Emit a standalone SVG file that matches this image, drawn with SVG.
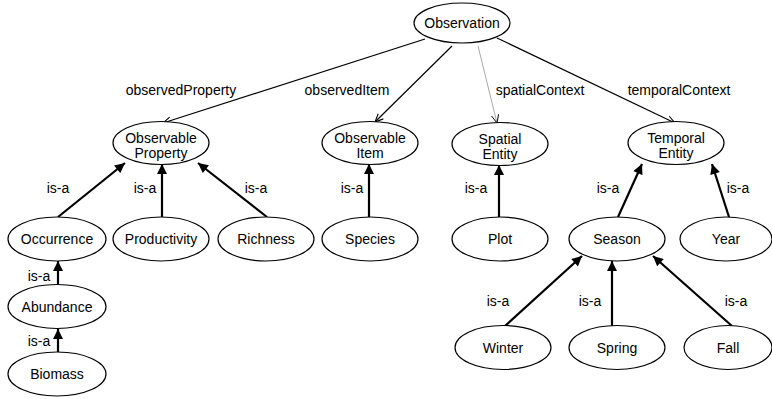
<svg xmlns="http://www.w3.org/2000/svg" width="772" height="399" viewBox="0 0 772 399">
<defs>
<style>
.n ellipse{fill:#fff;stroke:#000;stroke-width:1.2}
text{font-family:"Liberation Sans",Arial,sans-serif;font-size:14px;fill:#000;text-anchor:middle}
.rel{stroke:#000;stroke-width:1.2;fill:none}
.isa{stroke:#000;stroke-width:2.2;fill:none;marker-end:url(#tri)}
</style>
<marker id="open" viewBox="0 0 10 10" refX="10" refY="5" markerWidth="9" markerHeight="9" markerUnits="userSpaceOnUse" orient="auto">
<path d="M1,1 L10,5 L1,9" fill="none" stroke="#000" stroke-width="1.2"/>
</marker>
<marker id="opengray" viewBox="0 0 10 10" refX="10" refY="5" markerWidth="9" markerHeight="9" markerUnits="userSpaceOnUse" orient="auto">
<path d="M1,1 L10,5 L1,9" fill="none" stroke="#000" stroke-width="1"/>
</marker>
<marker id="tri" viewBox="0 0 10 10" refX="10" refY="5" markerWidth="11" markerHeight="10" markerUnits="userSpaceOnUse" orient="auto">
<path d="M0,0 L10,5 L0,10 Z" fill="#000"/>
</marker>
</defs>
<rect width="772" height="399" fill="#fff"/>
<g id="connectors">
<line class="rel" x1="425" y1="39" x2="163" y2="123" marker-end="url(#open)"/>
<line class="rel" x1="452" y1="46" x2="375" y2="122" marker-end="url(#open)"/>
<line x1="478" y1="46" x2="497" y2="123" stroke="#aaa" stroke-width="1" marker-end="url(#opengray)"/>
<line class="rel" x1="497" y1="38" x2="675" y2="123" stroke-width="1.6" marker-end="url(#open)"/>
<text x="181" y="95">observedProperty</text>
<text x="347" y="95">observedItem</text>
<text x="540" y="95">spatialContext</text>
<text x="679" y="95">temporalContext</text>
<line class="isa" x1="58" y1="217" x2="125" y2="163"/>
<line class="isa" x1="162" y1="217" x2="162" y2="164"/>
<line class="isa" x1="267" y1="217" x2="198" y2="163"/>
<line class="isa" x1="369" y1="217" x2="369" y2="164"/>
<line class="isa" x1="499" y1="217" x2="499" y2="165"/>
<line class="isa" x1="618" y1="217" x2="642" y2="164"/>
<line class="isa" x1="729" y1="217" x2="712" y2="164"/>
<line class="isa" x1="58" y1="284" x2="58" y2="261"/>
<line class="isa" x1="58" y1="352" x2="58" y2="329"/>
<line class="isa" x1="505" y1="326" x2="582" y2="256"/>
<line class="isa" x1="612" y1="326" x2="612" y2="261"/>
<line class="isa" x1="732" y1="326" x2="653" y2="256"/>
<text x="58" y="193">is-a</text>
<text x="145" y="193">is-a</text>
<text x="256" y="193">is-a</text>
<text x="352" y="193">is-a</text>
<text x="476" y="193">is-a</text>
<text x="608" y="193">is-a</text>
<text x="738" y="193">is-a</text>
<text x="39" y="281">is-a</text>
<text x="39" y="346">is-a</text>
<text x="498" y="306">is-a</text>
<text x="590" y="306">is-a</text>
<text x="736" y="306">is-a</text>
</g>
<g id="observation" class="n"><ellipse cx="462" cy="23" rx="48" ry="20"/><text x="462" y="28">Observation</text></g>
<g id="observable-property" class="n"><ellipse cx="161" cy="143" rx="48" ry="21.5"/><text x="161" y="143">Observable</text><text x="161" y="158">Property</text></g>
<g id="observable-item" class="n"><ellipse cx="370" cy="143" rx="48" ry="21.5"/><text x="370" y="143">Observable</text><text x="370" y="158">Item</text></g>
<g id="spatial-entity" class="n"><ellipse cx="500" cy="144" rx="48" ry="21.5"/><text x="500" y="144">Spatial</text><text x="500" y="159">Entity</text></g>
<g id="temporal-entity" class="n"><ellipse cx="676" cy="143" rx="48" ry="21.5"/><text x="676" y="143">Temporal</text><text x="676" y="158">Entity</text></g>
<g id="occurrence" class="n"><ellipse cx="57" cy="239" rx="49" ry="22"/><text x="57" y="244">Occurrence</text></g>
<g id="productivity" class="n"><ellipse cx="161" cy="239" rx="48" ry="22"/><text x="161" y="244">Productivity</text></g>
<g id="richness" class="n"><ellipse cx="266" cy="239" rx="48" ry="22"/><text x="266" y="244">Richness</text></g>
<g id="species" class="n"><ellipse cx="370" cy="239" rx="48" ry="22"/><text x="370" y="244">Species</text></g>
<g id="plot" class="n"><ellipse cx="500" cy="239" rx="48" ry="22"/><text x="500" y="244">Plot</text></g>
<g id="season" class="n"><ellipse cx="617" cy="239" rx="48" ry="22"/><text x="617" y="244">Season</text></g>
<g id="year" class="n"><ellipse cx="726" cy="239" rx="46" ry="22"/><text x="726" y="244">Year</text></g>
<g id="abundance" class="n"><ellipse cx="57" cy="306.5" rx="49" ry="22"/><text x="57" y="311.5">Abundance</text></g>
<g id="biomass" class="n"><ellipse cx="57" cy="374" rx="49" ry="22"/><text x="57" y="379">Biomass</text></g>
<g id="winter" class="n"><ellipse cx="503" cy="347.5" rx="48" ry="22"/><text x="503" y="352.5">Winter</text></g>
<g id="spring" class="n"><ellipse cx="617" cy="347.5" rx="48" ry="22"/><text x="617" y="352.5">Spring</text></g>
<g id="fall" class="n"><ellipse cx="728" cy="347.5" rx="44" ry="22"/><text x="728" y="352.5">Fall</text></g>
</svg>
